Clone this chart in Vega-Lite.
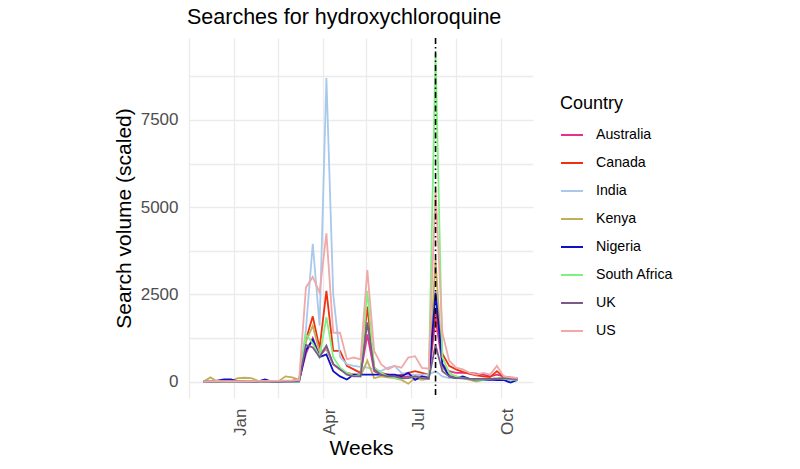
{
  "$schema": "https://vega.github.io/schema/vega-lite/v6.json",
  "width": 344,
  "height": 360,
  "autosize": {"type": "none"},
  "padding": {"left": 189, "top": 38, "right": 267, "bottom": 71},
  "background": "white",
  "title": {"text": "Searches for hydroxychloroquine", "anchor": "start", "frame": "group", "font": "Liberation Sans", "fontSize": 21.5, "fontWeight": "normal", "color": "black", "offset": 9, "dx": -2},
  "config": {"view": {"stroke": null}},
  "datasets": {
    "trends": [
{"w":"2019-12-01","c":"Australia","v":0},{"w":"2019-12-08","c":"Australia","v":10},{"w":"2019-12-15","c":"Australia","v":10},{"w":"2019-12-22","c":"Australia","v":20},{"w":"2019-12-29","c":"Australia","v":20},{"w":"2020-01-05","c":"Australia","v":10},{"w":"2020-01-12","c":"Australia","v":10},{"w":"2020-01-19","c":"Australia","v":10},{"w":"2020-01-26","c":"Australia","v":20},{"w":"2020-02-02","c":"Australia","v":10},{"w":"2020-02-09","c":"Australia","v":10},{"w":"2020-02-16","c":"Australia","v":20},{"w":"2020-02-23","c":"Australia","v":20},{"w":"2020-03-01","c":"Australia","v":30},{"w":"2020-03-08","c":"Australia","v":50},{"w":"2020-03-15","c":"Australia","v":800},{"w":"2020-03-22","c":"Australia","v":1250},{"w":"2020-03-29","c":"Australia","v":750},{"w":"2020-04-05","c":"Australia","v":950},{"w":"2020-04-12","c":"Australia","v":500},{"w":"2020-04-19","c":"Australia","v":350},{"w":"2020-04-26","c":"Australia","v":250},{"w":"2020-05-03","c":"Australia","v":200},{"w":"2020-05-10","c":"Australia","v":200},{"w":"2020-05-17","c":"Australia","v":1350},{"w":"2020-05-24","c":"Australia","v":300},{"w":"2020-05-31","c":"Australia","v":200},{"w":"2020-06-07","c":"Australia","v":150},{"w":"2020-06-14","c":"Australia","v":150},{"w":"2020-06-21","c":"Australia","v":120},{"w":"2020-06-28","c":"Australia","v":150},{"w":"2020-07-05","c":"Australia","v":150},{"w":"2020-07-12","c":"Australia","v":150},{"w":"2020-07-19","c":"Australia","v":120},{"w":"2020-07-26","c":"Australia","v":1800},{"w":"2020-08-02","c":"Australia","v":500},{"w":"2020-08-09","c":"Australia","v":300},{"w":"2020-08-16","c":"Australia","v":250},{"w":"2020-08-23","c":"Australia","v":250},{"w":"2020-08-30","c":"Australia","v":250},{"w":"2020-09-06","c":"Australia","v":230},{"w":"2020-09-13","c":"Australia","v":200},{"w":"2020-09-20","c":"Australia","v":150},{"w":"2020-09-27","c":"Australia","v":200},{"w":"2020-10-04","c":"Australia","v":150},{"w":"2020-10-11","c":"Australia","v":120},{"w":"2020-10-18","c":"Australia","v":100},
{"w":"2019-12-01","c":"Canada","v":0},{"w":"2019-12-08","c":"Canada","v":0},{"w":"2019-12-15","c":"Canada","v":10},{"w":"2019-12-22","c":"Canada","v":10},{"w":"2019-12-29","c":"Canada","v":0},{"w":"2020-01-05","c":"Canada","v":10},{"w":"2020-01-12","c":"Canada","v":10},{"w":"2020-01-19","c":"Canada","v":0},{"w":"2020-01-26","c":"Canada","v":10},{"w":"2020-02-02","c":"Canada","v":10},{"w":"2020-02-09","c":"Canada","v":0},{"w":"2020-02-16","c":"Canada","v":10},{"w":"2020-02-23","c":"Canada","v":20},{"w":"2020-03-01","c":"Canada","v":20},{"w":"2020-03-08","c":"Canada","v":50},{"w":"2020-03-15","c":"Canada","v":1200},{"w":"2020-03-22","c":"Canada","v":1870},{"w":"2020-03-29","c":"Canada","v":950},{"w":"2020-04-05","c":"Canada","v":2600},{"w":"2020-04-12","c":"Canada","v":880},{"w":"2020-04-19","c":"Canada","v":880},{"w":"2020-04-26","c":"Canada","v":450},{"w":"2020-05-03","c":"Canada","v":350},{"w":"2020-05-10","c":"Canada","v":250},{"w":"2020-05-17","c":"Canada","v":2150},{"w":"2020-05-24","c":"Canada","v":400},{"w":"2020-05-31","c":"Canada","v":250},{"w":"2020-06-07","c":"Canada","v":200},{"w":"2020-06-14","c":"Canada","v":150},{"w":"2020-06-21","c":"Canada","v":200},{"w":"2020-06-28","c":"Canada","v":250},{"w":"2020-07-05","c":"Canada","v":300},{"w":"2020-07-12","c":"Canada","v":250},{"w":"2020-07-19","c":"Canada","v":200},{"w":"2020-07-26","c":"Canada","v":2100},{"w":"2020-08-02","c":"Canada","v":800},{"w":"2020-08-09","c":"Canada","v":450},{"w":"2020-08-16","c":"Canada","v":350},{"w":"2020-08-23","c":"Canada","v":280},{"w":"2020-08-30","c":"Canada","v":220},{"w":"2020-09-06","c":"Canada","v":180},{"w":"2020-09-13","c":"Canada","v":150},{"w":"2020-09-20","c":"Canada","v":130},{"w":"2020-09-27","c":"Canada","v":300},{"w":"2020-10-04","c":"Canada","v":120},{"w":"2020-10-11","c":"Canada","v":100},{"w":"2020-10-18","c":"Canada","v":80},
{"w":"2019-12-01","c":"India","v":0},{"w":"2019-12-08","c":"India","v":0},{"w":"2019-12-15","c":"India","v":0},{"w":"2019-12-22","c":"India","v":0},{"w":"2019-12-29","c":"India","v":0},{"w":"2020-01-05","c":"India","v":0},{"w":"2020-01-12","c":"India","v":0},{"w":"2020-01-19","c":"India","v":0},{"w":"2020-01-26","c":"India","v":0},{"w":"2020-02-02","c":"India","v":0},{"w":"2020-02-09","c":"India","v":0},{"w":"2020-02-16","c":"India","v":0},{"w":"2020-02-23","c":"India","v":0},{"w":"2020-03-01","c":"India","v":10},{"w":"2020-03-08","c":"India","v":30},{"w":"2020-03-15","c":"India","v":1500},{"w":"2020-03-22","c":"India","v":3950},{"w":"2020-03-29","c":"India","v":1600},{"w":"2020-04-05","c":"India","v":8700},{"w":"2020-04-12","c":"India","v":2500},{"w":"2020-04-19","c":"India","v":700},{"w":"2020-04-26","c":"India","v":500},{"w":"2020-05-03","c":"India","v":450},{"w":"2020-05-10","c":"India","v":420},{"w":"2020-05-17","c":"India","v":400},{"w":"2020-05-24","c":"India","v":350},{"w":"2020-05-31","c":"India","v":300},{"w":"2020-06-07","c":"India","v":400},{"w":"2020-06-14","c":"India","v":450},{"w":"2020-06-21","c":"India","v":250},{"w":"2020-06-28","c":"India","v":200},{"w":"2020-07-05","c":"India","v":200},{"w":"2020-07-12","c":"India","v":200},{"w":"2020-07-19","c":"India","v":200},{"w":"2020-07-26","c":"India","v":300},{"w":"2020-08-02","c":"India","v":150},{"w":"2020-08-09","c":"India","v":100},{"w":"2020-08-16","c":"India","v":100},{"w":"2020-08-23","c":"India","v":80},{"w":"2020-08-30","c":"India","v":80},{"w":"2020-09-06","c":"India","v":60},{"w":"2020-09-13","c":"India","v":60},{"w":"2020-09-20","c":"India","v":60},{"w":"2020-09-27","c":"India","v":50},{"w":"2020-10-04","c":"India","v":60},{"w":"2020-10-11","c":"India","v":50},{"w":"2020-10-18","c":"India","v":40},
{"w":"2019-12-01","c":"Kenya","v":0},{"w":"2019-12-08","c":"Kenya","v":120},{"w":"2019-12-15","c":"Kenya","v":0},{"w":"2019-12-22","c":"Kenya","v":0},{"w":"2019-12-29","c":"Kenya","v":10},{"w":"2020-01-05","c":"Kenya","v":100},{"w":"2020-01-12","c":"Kenya","v":110},{"w":"2020-01-19","c":"Kenya","v":100},{"w":"2020-01-26","c":"Kenya","v":20},{"w":"2020-02-02","c":"Kenya","v":10},{"w":"2020-02-09","c":"Kenya","v":10},{"w":"2020-02-16","c":"Kenya","v":10},{"w":"2020-02-23","c":"Kenya","v":150},{"w":"2020-03-01","c":"Kenya","v":120},{"w":"2020-03-08","c":"Kenya","v":50},{"w":"2020-03-15","c":"Kenya","v":1150},{"w":"2020-03-22","c":"Kenya","v":1600},{"w":"2020-03-29","c":"Kenya","v":850},{"w":"2020-04-05","c":"Kenya","v":950},{"w":"2020-04-12","c":"Kenya","v":500},{"w":"2020-04-19","c":"Kenya","v":350},{"w":"2020-04-26","c":"Kenya","v":250},{"w":"2020-05-03","c":"Kenya","v":200},{"w":"2020-05-10","c":"Kenya","v":150},{"w":"2020-05-17","c":"Kenya","v":600},{"w":"2020-05-24","c":"Kenya","v":100},{"w":"2020-05-31","c":"Kenya","v":150},{"w":"2020-06-07","c":"Kenya","v":120},{"w":"2020-06-14","c":"Kenya","v":100},{"w":"2020-06-21","c":"Kenya","v":50},{"w":"2020-06-28","c":"Kenya","v":-60},{"w":"2020-07-05","c":"Kenya","v":100},{"w":"2020-07-12","c":"Kenya","v":50},{"w":"2020-07-19","c":"Kenya","v":80},{"w":"2020-07-26","c":"Kenya","v":3500},{"w":"2020-08-02","c":"Kenya","v":400},{"w":"2020-08-09","c":"Kenya","v":200},{"w":"2020-08-16","c":"Kenya","v":150},{"w":"2020-08-23","c":"Kenya","v":100},{"w":"2020-08-30","c":"Kenya","v":50},{"w":"2020-09-06","c":"Kenya","v":0},{"w":"2020-09-13","c":"Kenya","v":50},{"w":"2020-09-20","c":"Kenya","v":80},{"w":"2020-09-27","c":"Kenya","v":100},{"w":"2020-10-04","c":"Kenya","v":100},{"w":"2020-10-11","c":"Kenya","v":80},{"w":"2020-10-18","c":"Kenya","v":60},
{"w":"2019-12-01","c":"Nigeria","v":0},{"w":"2019-12-08","c":"Nigeria","v":0},{"w":"2019-12-15","c":"Nigeria","v":30},{"w":"2019-12-22","c":"Nigeria","v":60},{"w":"2019-12-29","c":"Nigeria","v":60},{"w":"2020-01-05","c":"Nigeria","v":10},{"w":"2020-01-12","c":"Nigeria","v":0},{"w":"2020-01-19","c":"Nigeria","v":-10},{"w":"2020-01-26","c":"Nigeria","v":10},{"w":"2020-02-02","c":"Nigeria","v":60},{"w":"2020-02-09","c":"Nigeria","v":0},{"w":"2020-02-16","c":"Nigeria","v":-10},{"w":"2020-02-23","c":"Nigeria","v":0},{"w":"2020-03-01","c":"Nigeria","v":0},{"w":"2020-03-08","c":"Nigeria","v":0},{"w":"2020-03-15","c":"Nigeria","v":900},{"w":"2020-03-22","c":"Nigeria","v":1200},{"w":"2020-03-29","c":"Nigeria","v":700},{"w":"2020-04-05","c":"Nigeria","v":780},{"w":"2020-04-12","c":"Nigeria","v":300},{"w":"2020-04-19","c":"Nigeria","v":150},{"w":"2020-04-26","c":"Nigeria","v":60},{"w":"2020-05-03","c":"Nigeria","v":200},{"w":"2020-05-10","c":"Nigeria","v":200},{"w":"2020-05-17","c":"Nigeria","v":200},{"w":"2020-05-24","c":"Nigeria","v":200},{"w":"2020-05-31","c":"Nigeria","v":200},{"w":"2020-06-07","c":"Nigeria","v":200},{"w":"2020-06-14","c":"Nigeria","v":200},{"w":"2020-06-21","c":"Nigeria","v":150},{"w":"2020-06-28","c":"Nigeria","v":250},{"w":"2020-07-05","c":"Nigeria","v":50},{"w":"2020-07-12","c":"Nigeria","v":150},{"w":"2020-07-19","c":"Nigeria","v":100},{"w":"2020-07-26","c":"Nigeria","v":2550},{"w":"2020-08-02","c":"Nigeria","v":500},{"w":"2020-08-09","c":"Nigeria","v":150},{"w":"2020-08-16","c":"Nigeria","v":100},{"w":"2020-08-23","c":"Nigeria","v":150},{"w":"2020-08-30","c":"Nigeria","v":80},{"w":"2020-09-06","c":"Nigeria","v":40},{"w":"2020-09-13","c":"Nigeria","v":40},{"w":"2020-09-20","c":"Nigeria","v":60},{"w":"2020-09-27","c":"Nigeria","v":40},{"w":"2020-10-04","c":"Nigeria","v":50},{"w":"2020-10-11","c":"Nigeria","v":-30},{"w":"2020-10-18","c":"Nigeria","v":50},
{"w":"2019-12-01","c":"South Africa","v":0},{"w":"2019-12-08","c":"South Africa","v":0},{"w":"2019-12-15","c":"South Africa","v":0},{"w":"2019-12-22","c":"South Africa","v":0},{"w":"2019-12-29","c":"South Africa","v":0},{"w":"2020-01-05","c":"South Africa","v":0},{"w":"2020-01-12","c":"South Africa","v":0},{"w":"2020-01-19","c":"South Africa","v":0},{"w":"2020-01-26","c":"South Africa","v":0},{"w":"2020-02-02","c":"South Africa","v":0},{"w":"2020-02-09","c":"South Africa","v":0},{"w":"2020-02-16","c":"South Africa","v":0},{"w":"2020-02-23","c":"South Africa","v":0},{"w":"2020-03-01","c":"South Africa","v":0},{"w":"2020-03-08","c":"South Africa","v":0},{"w":"2020-03-15","c":"South Africa","v":1350},{"w":"2020-03-22","c":"South Africa","v":1100},{"w":"2020-03-29","c":"South Africa","v":700},{"w":"2020-04-05","c":"South Africa","v":1850},{"w":"2020-04-12","c":"South Africa","v":700},{"w":"2020-04-19","c":"South Africa","v":400},{"w":"2020-04-26","c":"South Africa","v":250},{"w":"2020-05-03","c":"South Africa","v":150},{"w":"2020-05-10","c":"South Africa","v":200},{"w":"2020-05-17","c":"South Africa","v":2600},{"w":"2020-05-24","c":"South Africa","v":400},{"w":"2020-05-31","c":"South Africa","v":250},{"w":"2020-06-07","c":"South Africa","v":150},{"w":"2020-06-14","c":"South Africa","v":100},{"w":"2020-06-21","c":"South Africa","v":80},{"w":"2020-06-28","c":"South Africa","v":100},{"w":"2020-07-05","c":"South Africa","v":150},{"w":"2020-07-12","c":"South Africa","v":100},{"w":"2020-07-19","c":"South Africa","v":80},{"w":"2020-07-26","c":"South Africa","v":9400},{"w":"2020-08-02","c":"South Africa","v":700},{"w":"2020-08-09","c":"South Africa","v":250},{"w":"2020-08-16","c":"South Africa","v":150},{"w":"2020-08-23","c":"South Africa","v":100},{"w":"2020-08-30","c":"South Africa","v":80},{"w":"2020-09-06","c":"South Africa","v":50},{"w":"2020-09-13","c":"South Africa","v":50},{"w":"2020-09-20","c":"South Africa","v":80},{"w":"2020-09-27","c":"South Africa","v":100},{"w":"2020-10-04","c":"South Africa","v":80},{"w":"2020-10-11","c":"South Africa","v":60},{"w":"2020-10-18","c":"South Africa","v":50},
{"w":"2019-12-01","c":"UK","v":0},{"w":"2019-12-08","c":"UK","v":0},{"w":"2019-12-15","c":"UK","v":0},{"w":"2019-12-22","c":"UK","v":0},{"w":"2019-12-29","c":"UK","v":0},{"w":"2020-01-05","c":"UK","v":0},{"w":"2020-01-12","c":"UK","v":0},{"w":"2020-01-19","c":"UK","v":0},{"w":"2020-01-26","c":"UK","v":0},{"w":"2020-02-02","c":"UK","v":0},{"w":"2020-02-09","c":"UK","v":0},{"w":"2020-02-16","c":"UK","v":0},{"w":"2020-02-23","c":"UK","v":10},{"w":"2020-03-01","c":"UK","v":10},{"w":"2020-03-08","c":"UK","v":20},{"w":"2020-03-15","c":"UK","v":1050},{"w":"2020-03-22","c":"UK","v":980},{"w":"2020-03-29","c":"UK","v":700},{"w":"2020-04-05","c":"UK","v":1030},{"w":"2020-04-12","c":"UK","v":500},{"w":"2020-04-19","c":"UK","v":350},{"w":"2020-04-26","c":"UK","v":200},{"w":"2020-05-03","c":"UK","v":150},{"w":"2020-05-10","c":"UK","v":150},{"w":"2020-05-17","c":"UK","v":1700},{"w":"2020-05-24","c":"UK","v":350},{"w":"2020-05-31","c":"UK","v":200},{"w":"2020-06-07","c":"UK","v":150},{"w":"2020-06-14","c":"UK","v":150},{"w":"2020-06-21","c":"UK","v":100},{"w":"2020-06-28","c":"UK","v":100},{"w":"2020-07-05","c":"UK","v":150},{"w":"2020-07-12","c":"UK","v":100},{"w":"2020-07-19","c":"UK","v":80},{"w":"2020-07-26","c":"UK","v":1050},{"w":"2020-08-02","c":"UK","v":300},{"w":"2020-08-09","c":"UK","v":150},{"w":"2020-08-16","c":"UK","v":100},{"w":"2020-08-23","c":"UK","v":100},{"w":"2020-08-30","c":"UK","v":80},{"w":"2020-09-06","c":"UK","v":80},{"w":"2020-09-13","c":"UK","v":80},{"w":"2020-09-20","c":"UK","v":80},{"w":"2020-09-27","c":"UK","v":80},{"w":"2020-10-04","c":"UK","v":100},{"w":"2020-10-11","c":"UK","v":80},{"w":"2020-10-18","c":"UK","v":70},
{"w":"2019-12-01","c":"US","v":0},{"w":"2019-12-08","c":"US","v":10},{"w":"2019-12-15","c":"US","v":20},{"w":"2019-12-22","c":"US","v":10},{"w":"2019-12-29","c":"US","v":10},{"w":"2020-01-05","c":"US","v":10},{"w":"2020-01-12","c":"US","v":10},{"w":"2020-01-19","c":"US","v":10},{"w":"2020-01-26","c":"US","v":20},{"w":"2020-02-02","c":"US","v":20},{"w":"2020-02-09","c":"US","v":20},{"w":"2020-02-16","c":"US","v":20},{"w":"2020-02-23","c":"US","v":30},{"w":"2020-03-01","c":"US","v":30},{"w":"2020-03-08","c":"US","v":50},{"w":"2020-03-15","c":"US","v":2700},{"w":"2020-03-22","c":"US","v":3000},{"w":"2020-03-29","c":"US","v":2550},{"w":"2020-04-05","c":"US","v":4250},{"w":"2020-04-12","c":"US","v":1400},{"w":"2020-04-19","c":"US","v":1400},{"w":"2020-04-26","c":"US","v":640},{"w":"2020-05-03","c":"US","v":690},{"w":"2020-05-10","c":"US","v":640},{"w":"2020-05-17","c":"US","v":3200},{"w":"2020-05-24","c":"US","v":880},{"w":"2020-05-31","c":"US","v":500},{"w":"2020-06-07","c":"US","v":350},{"w":"2020-06-14","c":"US","v":450},{"w":"2020-06-21","c":"US","v":400},{"w":"2020-06-28","c":"US","v":690},{"w":"2020-07-05","c":"US","v":730},{"w":"2020-07-12","c":"US","v":390},{"w":"2020-07-19","c":"US","v":370},{"w":"2020-07-26","c":"US","v":5500},{"w":"2020-08-02","c":"US","v":1400},{"w":"2020-08-09","c":"US","v":600},{"w":"2020-08-16","c":"US","v":400},{"w":"2020-08-23","c":"US","v":350},{"w":"2020-08-30","c":"US","v":250},{"w":"2020-09-06","c":"US","v":200},{"w":"2020-09-13","c":"US","v":250},{"w":"2020-09-20","c":"US","v":200},{"w":"2020-09-27","c":"US","v":450},{"w":"2020-10-04","c":"US","v":150},{"w":"2020-10-11","c":"US","v":120},{"w":"2020-10-18","c":"US","v":100}
    ],
    "event": [{"d": "2020-07-26"}]
  },
  "layer": [
    {
      "data": {"name": "trends"},
      "mark": {"type": "line", "strokeWidth": 1.8, "clip": true},
      "encoding": {
        "x": {
          "field": "w", "type": "temporal", "title": "Weeks",
          "scale": {"type": "utc", "domain": [{"year": 2019, "month": 11, "date": 16, "utc": true}, {"year": 2020, "month": 11, "date": 3, "utc": true}]},
          "axis": {
            "values": [
              {"year": 2019, "month": 11, "date": 16, "utc": true},
              {"year": 2020, "month": 1, "date": 1, "utc": true},
              {"year": 2020, "month": 2, "date": 15, "utc": true},
              {"year": 2020, "month": 4, "date": 1, "utc": true},
              {"year": 2020, "month": 5, "date": 16, "utc": true},
              {"year": 2020, "month": 7, "date": 1, "utc": true},
              {"year": 2020, "month": 8, "date": 16, "utc": true},
              {"year": 2020, "month": 10, "date": 1, "utc": true}
            ],
            "labelExpr": "utcdate(datum.value) == 1 ? utcFormat(datum.value, '%b') : ''",
            "labelAngle": 270, "labelAlign": "right", "labelBaseline": "middle", "labelOffset": 7,
            "labelPadding": 10, "labelFont": "Liberation Sans", "labelFontSize": 17, "labelColor": "#4D4D4D",
            "labelOverlap": false, "labelBound": false, "labelFlush": false,
            "titleFont": "Liberation Sans", "titleFontSize": 21, "titleFontWeight": "normal", "titleColor": "black", "titlePadding": 2,
            "domain": false, "ticks": false, "grid": true, "gridColor": "#EBEBEB", "gridWidth": 1.3
          }
        },
        "y": {
          "field": "v", "type": "quantitative", "title": "Search volume (scaled)",
          "scale": {"domain": [-470, 9850], "nice": false, "zero": false},
          "axis": {
            "values": [0, 1250, 2500, 3750, 5000, 6250, 7500, 8750],
            "labelExpr": "datum.value % 2500 == 0 ? format(datum.value, 'd') : ''",
            "labelPadding": 11, "labelFont": "Liberation Sans", "labelFontSize": 17, "labelColor": "#4D4D4D",
            "labelOverlap": false, "labelBound": false, "labelFlush": false,
            "titleFont": "Liberation Sans", "titleFontSize": 21, "titleFontWeight": "normal", "titleColor": "black", "titlePadding": 6,
            "domain": false, "ticks": false, "grid": true, "gridColor": "#EBEBEB", "gridWidth": 1.3
          }
        },
        "color": {
          "field": "c", "type": "nominal", "title": "Country",
          "scale": {
            "domain": ["Australia", "Canada", "India", "Kenya", "Nigeria", "South Africa", "UK", "US"],
            "range": ["#E8308A", "#F03010", "#A8C8EC", "#C0B058", "#1010C8", "#80F080", "#7A5A8A", "#F0A8A8"]
          },
          "legend": {
            "orient": "none", "legendX": 371, "legendY": 57,
            "symbolType": "stroke", "symbolSize": 484, "symbolStrokeWidth": 2,
            "rowPadding": 8, "labelOffset": 12,
            "titleFont": "Liberation Sans", "titleFontSize": 18, "titleFontWeight": "normal", "titleColor": "black", "titlePadding": 10,
            "labelFont": "Liberation Sans", "labelFontSize": 14.2, "labelColor": "black"
          }
        }
      }
    },
    {
      "data": {"name": "event"},
      "mark": {"type": "rule", "color": "black", "strokeWidth": 1.6, "strokeDash": [6, 3, 1.5, 3]},
      "encoding": {"x": {"field": "d", "type": "temporal"}}
    }
  ]
}
